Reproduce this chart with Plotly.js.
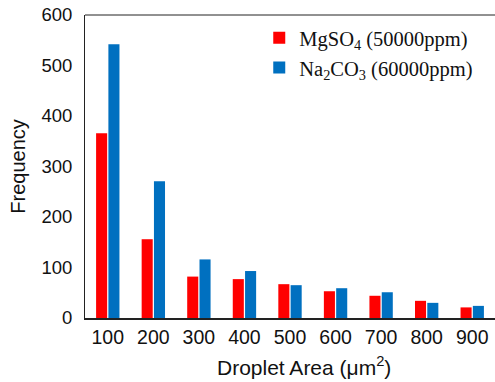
<!DOCTYPE html>
<html>
<head>
<meta charset="utf-8">
<script src="https://cdn.plot.ly/plotly-3.0.1.min.js"></script>
<style>html,body{margin:0;padding:0;background:#fff;}#chart{width:495px;height:382px;}</style>
</head>
<body>
<div id="chart"></div>
<script>
var categories = ["100","200","300","400","500","600","700","800","900"];
var mgso4 = [366, 156, 82, 77, 67, 53, 44, 34, 21];
var na2co3 = [542, 271, 116, 93, 65, 59, 51, 30, 24];
var yTicks = [0, 100, 200, 300, 400, 500, 600];
var xTitle = "Droplet Area (μm<sup>2</sup>)";
var yTitle = "Frequency";

var traces = [
  {type: "bar", x: categories, y: mgso4, name: "MgSO<sub>4</sub> (50000ppm)",
   marker: {color: "#FF0000"}},
  {type: "bar", x: categories, y: na2co3, name: "Na<sub>2</sub>CO<sub>3</sub> (60000ppm)",
   marker: {color: "#0070C0"}}
];

var layout = {
  width: 495, height: 382,
  margin: {l: 85, r: 0, t: 15, b: 64},
  paper_bgcolor: "#fff", plot_bgcolor: "#fff",
  barmode: "group", bargap: 0.46, bargroupgap: 0.1,
  font: {family: "Liberation Sans, Arial, sans-serif", color: "#111", size: 19},
  xaxis: {
    type: "category", range: [-0.5, 8.5],
    showline: true, linecolor: "#222", linewidth: 2,
    ticks: "", showgrid: false, zeroline: false,
    tickfont: {size: 19.5}, ticklabelstandoff: 1
  },
  yaxis: {
    range: [0, 600], tickvals: yTicks,
    showline: true, linecolor: "#222", linewidth: 1,
    ticks: "", showgrid: false, zeroline: false,
    tickfont: {size: 18.5}, ticklabelstandoff: 8,
    title: {text: yTitle, font: {size: 20}, standoff: 10}
  },
  annotations: [
    {text: xTitle, xref: "paper", yref: "paper", x: 0.534, y: 0,
     xanchor: "center", yanchor: "middle", yshift: -48, showarrow: false,
     font: {size: 21}}
  ],
  shapes: [
    {type: "line", xref: "paper", yref: "paper", x0: 0, x1: 1, y0: 1, y1: 1,
     line: {color: "#222", width: 1}}
  ],
  legend: {
    x: 0.425, y: 0.99, xanchor: "left", yanchor: "top",
    bgcolor: "rgba(0,0,0,0)", tracegroupgap: 0,
    font: {family: "Liberation Serif, Times New Roman, serif", size: 20.5, color: "#111"}
  },
  showlegend: true
};

Plotly.newPlot("chart", traces, layout, {staticPlot: true, displayModeBar: false});
</script>
</body>
</html>
